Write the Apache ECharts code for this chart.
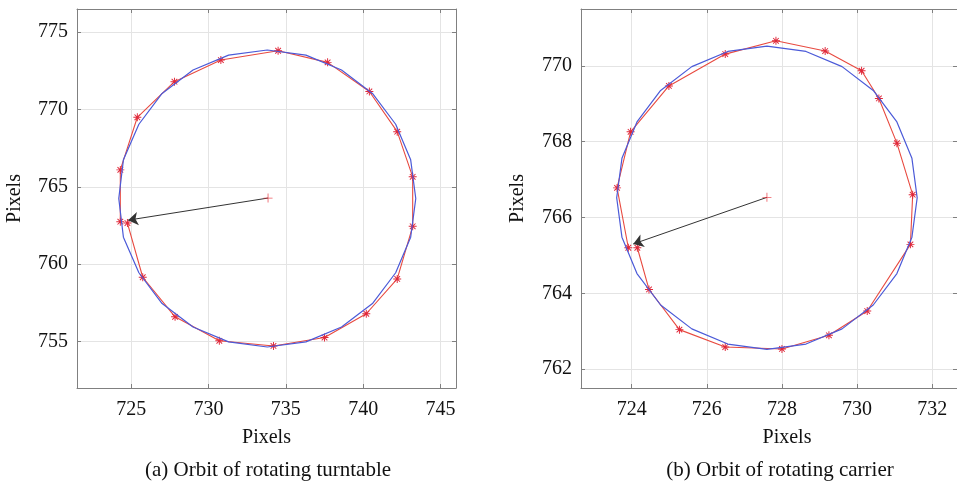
<!DOCTYPE html>
<html>
<head>
<meta charset="utf-8">
<script src="https://cdn.jsdelivr.net/npm/echarts@6/dist/echarts.min.js"></script>
<style>
  html, body { margin: 0; padding: 0; background: #fff; }
  #chart { width: 957px; height: 485px; }
</style>
</head>
<body>
<div id="chart"></div>
<script>
// (a) rotating turntable: measured positions (red) and fitted circle (blue)
const turntableMeasured = [
  [724.76, 762.66], [725.75, 759.16], [727.84, 756.6], [730.7, 755.05], [734.2, 754.72],
  [737.5, 755.26], [740.2, 756.8], [742.2, 759.05], [743.2, 762.45], [743.2, 765.65],
  [742.2, 768.57], [740.4, 771.17], [737.7, 773.05], [734.5, 773.8], [730.8, 773.2],
  [727.8, 771.8], [725.4, 769.5], [724.3, 766.1], [724.3, 762.75]
];
const turntableFitted = [
  [743.4, 764.25], [743.07, 766.75], [742.1, 769.05], [740.6, 771.04], [738.6, 772.56],
  [736.3, 773.52], [733.8, 773.85], [731.3, 773.52], [729.0, 772.56], [727.0, 771.04],
  [725.5, 769.05], [724.5, 766.75], [724.2, 764.25], [724.5, 761.75], [725.5, 759.45],
  [727.0, 757.46], [729.0, 755.94], [731.3, 754.98], [733.8, 754.65], [736.3, 754.98],
  [738.6, 755.94], [740.6, 757.46], [742.1, 759.45], [743.07, 761.75], [743.4, 764.25]
];
const turntableCenter = [733.85, 764.28];
const turntableArrowTip = [724.8, 762.85];
const turntableXTicks = [725, 730, 735, 740, 745];
const turntableYTicks = [755, 760, 765, 770, 775];

// (b) rotating carrier
const carrierMeasured = [
  [724.15, 765.2], [724.46, 764.1], [725.27, 763.04], [726.49, 762.58], [728.0, 762.53],
  [729.25, 762.89], [730.27, 763.53], [731.42, 765.29], [731.48, 766.6], [731.06, 767.96],
  [730.58, 769.14], [730.12, 769.87], [729.15, 770.39], [727.84, 770.66], [726.49, 770.31],
  [724.99, 769.47], [723.97, 768.26], [723.61, 766.78], [723.91, 765.2]
];
const carrierFitted = [
  [731.6, 766.52], [731.46, 767.56], [731.06, 768.52], [730.43, 769.35], [729.6, 769.98],
  [728.64, 770.38], [727.6, 770.52], [726.56, 770.38], [725.6, 769.98], [724.77, 769.35],
  [724.14, 768.52], [723.74, 767.56], [723.6, 766.52], [723.74, 765.48], [724.14, 764.52],
  [724.77, 763.69], [725.6, 763.06], [726.56, 762.66], [727.6, 762.52], [728.64, 762.66],
  [729.6, 763.06], [730.43, 763.69], [731.06, 764.52], [731.46, 765.48], [731.6, 766.52]
];
const carrierCenter = [727.6, 766.53];
const carrierArrowTip = [724.04, 765.3];
const carrierXTicks = [724, 726, 728, 730, 732];
const carrierYTicks = [762, 764, 766, 768, 770];

const FONT = "'Liberation Serif', 'Times New Roman', serif";
const ASTERISK = 'path://M-1,-0.12L1,-0.12L1,0.12L-1,0.12Z M-0.12,-1L0.12,-1L0.12,1L-0.12,1Z ' +
  'M-0.62,-0.79L0.79,0.62L0.62,0.79L-0.79,-0.62Z M0.62,-0.79L0.79,-0.62L-0.62,0.79L-0.79,0.62Z';
const PLUS = 'path://M-1,-0.09L1,-0.09L1,0.09L-1,0.09Z M-0.09,-1L0.09,-1L0.09,1L-0.09,1Z';

const frame = '#808080';

// main axis (with labels) or mirror axis (ticks only) for top/right sides
function makeAxis(dim, grid, min, max, ticks, main, nameOpt) {
  const ax = {
    type: 'value',
    gridIndex: grid,
    min: min,
    max: max,
    position: dim === 'x' ? (main ? 'bottom' : 'top') : (main ? 'left' : 'right'),
    axisLine: { show: true, lineStyle: { color: frame, width: 1 } },
    axisTick: { show: true, inside: true, length: 4, customValues: ticks, lineStyle: { color: frame } },
    axisLabel: {
      show: main,
      customValues: ticks,
      margin: dim === 'x' ? 12 : 9,
      color: '#111',
      fontFamily: FONT,
      fontSize: 20
    },
    splitLine: { show: main, lineStyle: { color: '#e4e4e4', width: 1 } }
  };
  if (main && nameOpt) Object.assign(ax, nameOpt);
  return ax;
}

function nameStyle(gap, pad) {
  return {
    name: 'Pixels',
    nameLocation: 'middle',
    nameGap: gap,
    nameTextStyle: { color: '#111', fontFamily: FONT, fontSize: 20, padding: pad || 0 }
  };
}

function orbitSeries(idx, measured, fitted, center, tip) {
  return [
    {
      type: 'line', xAxisIndex: idx * 2, yAxisIndex: idx * 2,
      data: measured, symbol: ASTERISK, symbolSize: 8, showSymbol: true,
      itemStyle: { color: '#e0283a' },
      lineStyle: { color: '#e84a40', width: 1.1 },
      animation: false, z: 2
    },
    {
      type: 'line', xAxisIndex: idx * 2, yAxisIndex: idx * 2,
      data: fitted, symbol: 'none',
      lineStyle: { color: '#4b5ad8', width: 1.2 },
      animation: false, z: 3
    },
    {
      type: 'lines', coordinateSystem: 'cartesian2d', xAxisIndex: idx * 2, yAxisIndex: idx * 2,
      symbol: ['none', 'arrow'], symbolSize: 10,
      lineStyle: { color: '#333', width: 1, opacity: 1 },
      data: [{ coords: [center, tip] }],
      animation: false, z: 4
    },
    {
      type: 'scatter', xAxisIndex: idx * 2, yAxisIndex: idx * 2,
      data: [center], symbol: PLUS, symbolSize: 9,
      itemStyle: { color: '#e8303a' },
      animation: false, z: 5
    }
  ];
}

const chart = echarts.init(document.getElementById('chart'), null, { renderer: 'canvas' });

chart.setOption({
  backgroundColor: '#fff',
  animation: false,
  grid: [
    { left: 77, top: 9, width: 379, height: 379 },
    { left: 581, top: 9, width: 377, height: 379 }
  ],
  xAxis: [
    makeAxis('x', 0, 721.5, 746, turntableXTicks, true, nameStyle(40)),
    makeAxis('x', 0, 721.5, 746, turntableXTicks, false),
    makeAxis('x', 1, 722.65, 732.66, carrierXTicks, true, nameStyle(40, [0, 0, 0, 36])),
    makeAxis('x', 1, 722.65, 732.66, carrierXTicks, false)
  ],
  yAxis: [
    makeAxis('y', 0, 752, 776.5, turntableYTicks, true, nameStyle(52)),
    makeAxis('y', 0, 752, 776.5, turntableYTicks, false),
    makeAxis('y', 1, 761.5, 771.5, carrierYTicks, true, nameStyle(53)),
    makeAxis('y', 1, 761.5, 771.5, carrierYTicks, false)
  ],
  graphic: [
    {
      type: 'text', x: 268, y: 470,
      style: {
        text: '(a) Orbit of rotating turntable', fontFamily: FONT, fontSize: 21, fill: '#111',
        align: 'center', verticalAlign: 'middle'
      }
    },
    {
      type: 'text', x: 780, y: 470,
      style: {
        text: '(b) Orbit of rotating carrier', fontFamily: FONT, fontSize: 21, fill: '#111',
        align: 'center', verticalAlign: 'middle'
      }
    }
  ],
  series: [].concat(
    orbitSeries(0, turntableMeasured, turntableFitted, turntableCenter, turntableArrowTip),
    orbitSeries(1, carrierMeasured, carrierFitted, carrierCenter, carrierArrowTip)
  )
});
</script>
</body>
</html>
